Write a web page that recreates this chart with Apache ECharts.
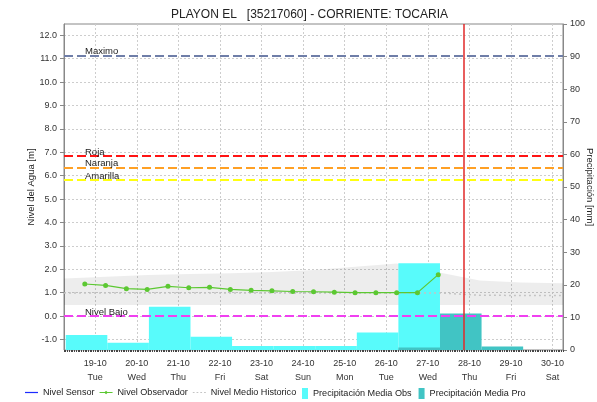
<!DOCTYPE html>
<html>
<head>
<meta charset="utf-8">
<script src="https://cdn.jsdelivr.net/npm/echarts@6/dist/echarts.min.js"></script>
<style>
  html, body { margin: 0; padding: 0; background: #fff; }
  #chart { width: 597px; height: 402px; }
</style>
</head>
<body>
<div id="chart"></div>
<script>
// fechas de eje (medianoche de cada dia)
var dayLabels = ['19-10','20-10','21-10','22-10','23-10','24-10','25-10','26-10','27-10','28-10','29-10','30-10'];
var weekDays = ['Tue','Wed','Thu','Fri','Sat','Sun','Mon','Tue','Wed','Thu','Fri','Sat'];

// nivel observador (lecturas 06:00 / 18:00)
var obsTimes = ['18-10 18:00','19-10 06:00','19-10 18:00','20-10 06:00','20-10 18:00','21-10 06:00',
  '21-10 18:00','22-10 06:00','22-10 18:00','23-10 06:00','23-10 18:00','24-10 06:00',
  '24-10 18:00','25-10 06:00','25-10 18:00','26-10 06:00','26-10 18:00','27-10 06:00'];
var obsLevel = [1.37, 1.31, 1.17, 1.14, 1.27, 1.21, 1.23, 1.14, 1.10, 1.08, 1.05, 1.04,
  1.02, 1.00, 1.00, 1.00, 1.00, 1.77];

// nivel medio historico y rango
var histTimes = ['18-10 06:00','19-10 06:00','20-10 06:00','21-10 06:00','22-10 06:00','23-10 06:00',
  '24-10 06:00','25-10 06:00','26-10 06:00','27-10 06:00','28-10 06:00','29-10 06:00','30-10 06:00'];
var histMean = [0.99, 0.99, 0.99, 0.99, 0.99, 0.99, 0.99, 0.99, 0.99, 0.99, 0.89, 0.88, 0.88];
var histLow  = [0.47, 0.47, 0.47, 0.47, 0.47, 0.47, 0.47, 0.47, 0.47, 0.47, 0.47, 0.47, 0.47];
var histHigh = [1.60, 1.68, 1.75, 1.80, 1.83, 1.88, 1.97, 2.11, 2.25, 1.87, 1.52, 1.43, 1.40];

// precipitacion (dia pluviometrico 07:00 a 07:00)
var rainObsStart = ['18-10 07:00','19-10 07:00','20-10 07:00','21-10 07:00','22-10 07:00',
  '23-10 07:00','24-10 07:00','25-10 07:00','26-10 07:00'];
var rainObs = [4.6, 2.2, 13.3, 4.1, 1.2, 1.2, 1.2, 5.4, 26.6];
var rainProStart = ['26-10 07:00','27-10 07:00','28-10 07:00'];
var rainPro = [0.8, 11.2, 1.1];

// umbrales
var umbralNames = ['Maximo','Roja','Naranja','Amarilla','Nivel Bajo'];
var umbralValues = [11.13, 6.84, 6.34, 5.81, 0.0];
var umbralColors = ['#6f7ea8','#ff1414','#ffa024','#ffff10','#f040f0'];

var levelTicks = [-1,0,1,2,3,4,5,6,7,8,9,10,11,12];
var nowTime = '27-10 20:30';

// horas desde 19-10 00:00
function toH(s) {
  var d = parseInt(s.substr(0, 2), 10);
  var hm = s.substr(6).split(':');
  return (d - 19) * 24 + parseInt(hm[0], 10) + parseInt(hm[1], 10) / 60;
}

var xMin = toH('18-10 06:00');
var xMax = toH('30-10 06:00');
var dayTicks = dayLabels.map(function (d, i) { return i * 24; });
var hourTicks = [];
for (var h = xMin; h <= xMax; h++) hourTicks.push(h);

var FONT = '"Liberation Sans", Arial, sans-serif';

function barItem(params, api) {
  var start = api.value(0);
  var val = api.value(1);
  var top = api.coord([start, val]);
  var bot = api.coord([start + 24, 0]);
  var cs = params.coordSys;
  var x0 = Math.max(top[0], cs.x);
  var x1 = Math.min(bot[0], cs.x + cs.width);
  return {
    type: 'rect',
    shape: { x: x0, y: top[1], width: x1 - x0, height: bot[1] - top[1] },
    style: api.style()
  };
}

// banda historica: un solo poligono con todos los puntos
function bandItem(params, api) {
  if (params.dataIndexInside !== 0) return;
  var n = params.dataInsideLength;
  var upper = [], lower = [];
  for (var j = 0; j < n; j++) {
    upper.push(api.coord([api.value(0, j), api.value(2, j)]));
    lower.unshift(api.coord([api.value(0, j), api.value(1, j)]));
  }
  return {
    type: 'polygon',
    shape: { points: upper.concat(lower) },
    style: { fill: 'rgba(0,0,0,0.07)' }
  };
}

var chart = echarts.init(document.getElementById('chart'));

var legendText = { fontSize: 9.1, color: '#222', fontFamily: FONT };

var option = {
  animation: false,
  textStyle: { fontFamily: FONT },
  title: {
    text: 'PLAYON EL   [35217060] - CORRIENTE: TOCARIA',
    left: 166,
    top: 4,
    textStyle: { fontSize: 12, fontWeight: 'normal', color: '#222', fontFamily: FONT }
  },
  legend: [
    {
      left: 25,
      top: 388,
      padding: 0,
      itemGap: 5,
      itemWidth: 13,
      itemHeight: 10,
      textStyle: legendText,
      data: [
        { name: 'Nivel Sensor', icon: 'path://M0,0h15v1.4h-15z' },
        { name: 'Nivel Observador', icon: 'path://M0,1.5h15v1.1h-15zM7.5,0L9.6,2L7.5,4L5.4,2Z' },
        { name: 'Nivel Medio Historico', icon: 'path://M0,0h2v1.4h-2zM4.3,0h2v1.4h-2zM8.6,0h2v1.4h-2zM12.9,0h2v1.4h-2z' }
      ]
    },
    {
      left: 302,
      top: 388,
      padding: 0,
      itemGap: 7,
      itemWidth: 6,
      itemHeight: 11,
      icon: 'rect',
      textStyle: legendText,
      data: ['Precipitación Media Obs', 'Precipitación Media Pro']
    }
  ],
  grid: {
    left: 64, right: 34, top: 24, bottom: 52,
    outerBoundsMode: 'none',
    show: true, borderColor: '#888', borderWidth: 1, backgroundColor: 'transparent'
  },
  xAxis: [
    {
      type: 'value',
      min: xMin,
      max: xMax,
      axisLine: { show: false, onZero: false },
      axisTick: { show: false, customValues: dayTicks },
      axisLabel: {
        customValues: dayTicks,
        margin: 7,
        fontSize: 9,
        lineHeight: 14,
        color: '#333',
        formatter: function (v) {
          var i = Math.round(v / 24);
          return dayLabels[i] + '\n' + weekDays[i];
        }
      },
      splitLine: { show: true, lineStyle: { color: '#cdcdcd', type: [2, 2] } }
    },
    {
      type: 'value',
      min: xMin,
      max: xMax,
      position: 'bottom',
      axisLine: { show: false, onZero: false },
      axisTick: { show: true, customValues: hourTicks, length: 2, lineStyle: { color: '#444' } },
      axisLabel: { show: false },
      splitLine: { show: false }
    }
  ],
  yAxis: [
    {
      type: 'value',
      min: -1.45,
      max: 12.48,
      name: 'Nivel del Agua [m]',
      nameLocation: 'middle',
      nameGap: 28,
      nameMoveOverlap: false,
      nameTextStyle: { fontSize: 9.5, color: '#222' },
      axisLine: { show: true, onZero: false, lineStyle: { color: '#888' } },
      axisTick: { show: true, length: 4, customValues: levelTicks, lineStyle: { color: '#888' } },
      axisLabel: {
        customValues: levelTicks,
        margin: 7,
        fontSize: 9,
        color: '#333',
        formatter: function (v) { return v.toFixed(1); }
      },
      splitLine: { show: true, lineStyle: { color: '#cdcdcd', type: [2, 2] } }
    },
    {
      type: 'value',
      min: 0,
      max: 100,
      interval: 10,
      position: 'right',
      name: 'Precipitación [mm]',
      nameLocation: 'middle',
      nameGap: 22,
      nameRotate: -90,
      nameMoveOverlap: false,
      nameTextStyle: { fontSize: 9.5, color: '#222' },
      axisLine: { show: true, onZero: false, lineStyle: { color: '#888' } },
      axisTick: { show: true, length: 4, lineStyle: { color: '#888' } },
      axisLabel: { margin: 7, fontSize: 9, color: '#333' },
      splitLine: { show: false }
    }
  ],
  series: [
    {
      name: 'rango historico',
      type: 'custom',
      silent: true,
      renderItem: bandItem,
      encode: { x: 0, y: [1, 2] },
      data: histTimes.map(function (t, i) { return [toH(t), histLow[i], histHigh[i]]; })
    },
    {
      name: 'Precipitación Media Obs',
      type: 'custom',
      yAxisIndex: 1,
      renderItem: barItem,
      itemStyle: { color: '#58fbfb' },
      encode: { x: 0, y: 1 },
      data: rainObsStart.map(function (t, i) { return [toH(t), rainObs[i]]; })
    },
    {
      name: 'Precipitación Media Pro',
      type: 'custom',
      yAxisIndex: 1,
      renderItem: barItem,
      itemStyle: { color: '#41c4c4' },
      encode: { x: 0, y: 1 },
      data: rainProStart.map(function (t, i) { return [toH(t), rainPro[i]]; })
    },
    {
      name: 'Nivel Medio Historico',
      type: 'line',
      symbol: 'none',
      color: '#c4c4c4',
      lineStyle: { color: '#c4c4c4', width: 1.5, type: [2, 3] },
      data: histTimes.map(function (t, i) { return [toH(t), histMean[i]]; })
    },
    {
      name: 'Nivel Sensor',
      type: 'line',
      symbol: 'none',
      color: '#1c2cff',
      lineStyle: { color: '#1c2cff', width: 1.5 },
      data: []
    },
    {
      name: 'Nivel Observador',
      type: 'line',
      symbol: 'circle',
      symbolSize: 5,
      color: '#5cc832',
      lineStyle: { color: '#5cc832', width: 1.2 },
      data: obsTimes.map(function (t, i) { return [toH(t), obsLevel[i]]; })
    },
    {
      name: 'umbrales',
      type: 'line',
      data: [],
      markLine: {
        silent: true,
        symbol: ['none', 'none'],
        lineStyle: { type: [9, 4], width: 2 },
        label: {
          position: 'insideStartTop',
          formatter: '{b}',
          distance: [21, -1],
          fontSize: 9.5,
          color: '#222',
          fontFamily: FONT
        },
        data: umbralNames.map(function (n, i) {
          return { name: n, yAxis: umbralValues[i], lineStyle: { color: umbralColors[i] } };
        })
      }
    },
    {
      name: 'ahora',
      type: 'line',
      data: [],
      markLine: {
        silent: true,
        symbol: ['none', 'none'],
        label: { show: false },
        lineStyle: { type: 'solid', width: 1.5, color: '#e02828' },
        data: [{ xAxis: toH(nowTime) }]
      }
    }
  ]
};

chart.setOption(option);
</script>
</body>
</html>
